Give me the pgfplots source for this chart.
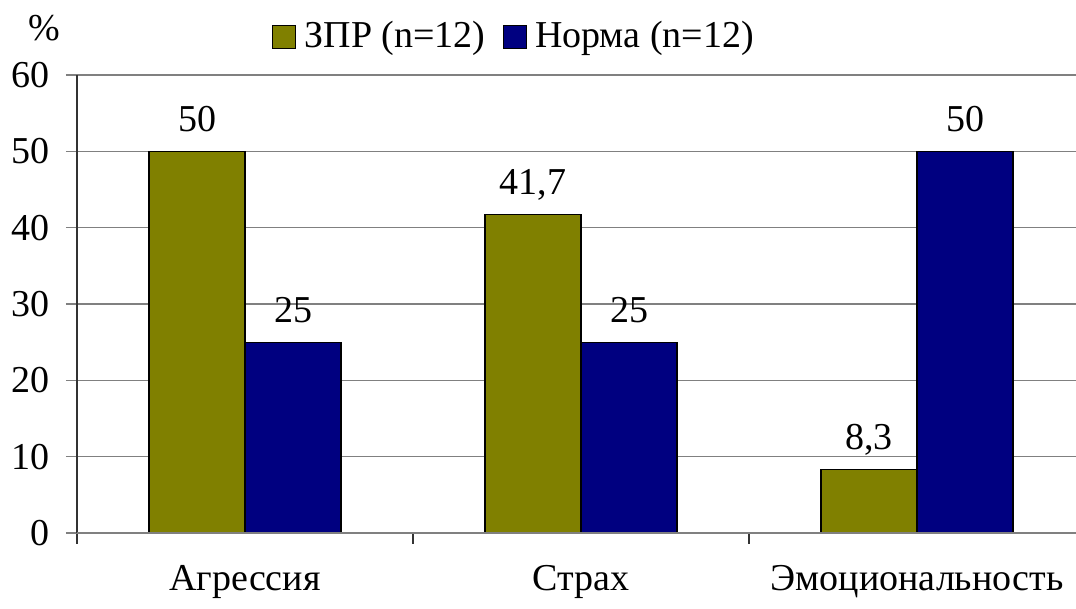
\documentclass[border=0pt]{standalone}
\usepackage{fontspec}
\setmainfont{Liberation Serif}
\usepackage{pgfplots}
\pgfplotsset{compat=1.18}
\definecolor{zpr}{HTML}{808000}
\definecolor{norm}{HTML}{000080}
\definecolor{gridgray}{HTML}{808080}
\begin{document}
\fontsize{19}{22}\selectfont
\begin{tikzpicture}
\useasboundingbox (0,0) rectangle (538pt,304.5pt);
\begin{axis}[
  at={(38.5pt,38pt)}, anchor=south west,
  scale only axis, width=499.5pt, height=229pt,
  xmin=-0.5, xmax=2.473, ymin=0, ymax=60,
  axis line style={draw=none},
  clip=false,
  ytick={0,10,...,60},
  ymajorgrids, grid style={gridgray, line width=0.6pt},
  ytick style={gridgray, line width=0.6pt},
  y tick label style={anchor=east, inner sep=0pt, xshift=-8pt},
  ytick pos=left, tick align=outside, major tick length=5.5pt,
  xtick={-0.5,0.5,1.5},
  xticklabels={},
  x tick style={draw=black!80, line width=0.6pt},
  xtick pos=bottom,
  extra x ticks={0,1,2},
  extra x tick labels={Агрессия,Страх,Эмоциональность},
  extra x tick style={major tick length=0pt, grid=none, x tick label style={anchor=base, inner sep=0pt, yshift=-29pt}},
  /pgf/number format/assume math mode=true,
  ybar, bar width=0.2857,
  legend columns=2,
  legend style={at={(axis description cs:0.4384,1.083)}, anchor=center, draw=none, fill=none,
     /tikz/every even column/.append style={column sep=6.5pt}, inner sep=0pt},
  legend image code/.code={\draw[#1, draw=black, line width=0.6pt] (0pt,-5.75pt) rectangle (11.5pt,5.75pt); \path[draw=none, fill=none] (11.5pt,0) -- (14pt,0);},
  nodes near coords, point meta=explicit symbolic,
  every node near coord/.append style={anchor=base, inner sep=0pt, yshift=10pt, text=black},
]
\addplot[fill=zpr, draw=black, line width=0.6pt, bar shift=-0.142857] coordinates {(0,50) [50] (1,41.7) [{41,7}] (2,8.3) [{8,3}]};
\addplot[fill=norm, draw=black, line width=0.6pt, bar shift=0.142857] coordinates {(0,25) [25] (1,25) [25] (2,50) [50]};
\legend{ЗПР (n=12),Норма (n=12)}
\draw[black!80, line width=0.6pt] (axis cs:-0.5,0) -- (axis cs:-0.5,60);
\draw[gridgray, line width=0.6pt] (axis cs:-0.5,0) -- (axis cs:2.473,0);
\end{axis}
\node[inner sep=0pt] at (22pt,290.5pt) {\%};
\end{tikzpicture}
\end{document}
